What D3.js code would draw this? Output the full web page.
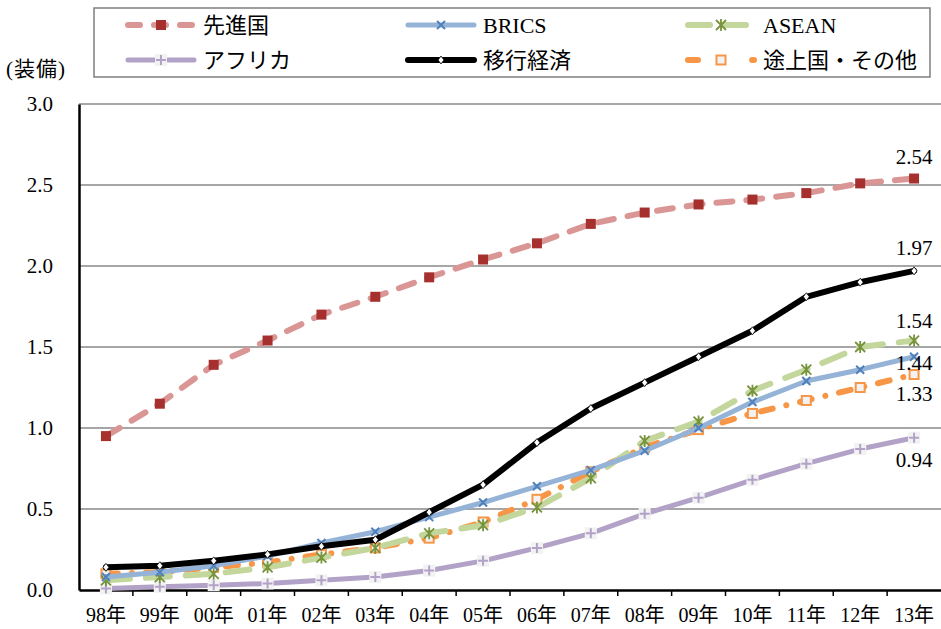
<!DOCTYPE html>
<html>
<head>
<meta charset="utf-8">
<script src="https://cdn.jsdelivr.net/npm/d3@7"></script>
<style>
  body { margin: 0; background: #fff; }
  svg text { font-family: "Liberation Serif", "Noto Sans CJK JP", serif; fill: #000; }
</style>
</head>
<body>
<svg id="chart" width="941" height="629"></svg>
<script>
const years = ["98年","99年","00年","01年","02年","03年","04年","05年","06年","07年","08年","09年","10年","11年","12年","13年"];
const yTicks = [0, 0.5, 1.0, 1.5, 2.0, 2.5, 3.0];

const advanced   = [0.95, 1.15, 1.39, 1.54, 1.70, 1.81, 1.93, 2.04, 2.14, 2.26, 2.33, 2.38, 2.41, 2.45, 2.51, 2.54];
const brics      = [0.08, 0.11, 0.15, 0.21, 0.29, 0.36, 0.45, 0.54, 0.64, 0.74, 0.86, 1.00, 1.16, 1.29, 1.36, 1.44];
const asean      = [0.06, 0.08, 0.10, 0.14, 0.20, 0.26, 0.35, 0.40, 0.51, 0.69, 0.92, 1.04, 1.23, 1.36, 1.50, 1.54];
const africa     = [0.01, 0.02, 0.03, 0.04, 0.06, 0.08, 0.12, 0.18, 0.26, 0.35, 0.47, 0.57, 0.68, 0.78, 0.87, 0.94];
const transition = [0.14, 0.15, 0.18, 0.22, 0.27, 0.31, 0.48, 0.65, 0.91, 1.12, 1.28, 1.44, 1.60, 1.81, 1.90, 1.97];
const others     = [0.10, 0.11, 0.14, 0.17, 0.22, 0.26, 0.32, 0.42, 0.56, 0.73, 0.88, 0.99, 1.09, 1.17, 1.25, 1.33];

const series = [
  { name: "先進国", values: advanced, color: "#DA9694", mark: "#A5302D", marker: "square", dash: "16,14", legDash: "12,14", width: 6, label: "2.54", ldy: -15 },
  { name: "BRICS", values: brics, color: "#95B3D7", mark: "#4F81BD", marker: "x", dash: null, legDash: null, width: 5, label: "1.44", ldy: 13 },
  { name: "ASEAN", values: asean, color: "#C3D69B", mark: "#77933C", marker: "star", dash: "24,16", legDash: "22,14", width: 6, label: "1.54", ldy: -13 },
  { name: "アフリカ", values: africa, color: "#B3A2C7", mark: "#B3A2C7", marker: "plus", dash: null, legDash: null, width: 5, label: "0.94", ldy: 29 },
  { name: "移行経済", values: transition, color: "#000000", mark: "#000", marker: "diamond", dash: null, legDash: null, width: 6, label: "1.97", ldy: -16 },
  { name: "途上国・その他", values: others, color: "#F79646", mark: "#F79646", marker: "open", dash: "12,14,0.1,14", legDash: "10,24,0.1,30", width: 6, label: "1.33", ldy: 26 }
];

const svg = d3.select("#chart");
const plotL = 79, plotR = 941, plotT = 104, plotB = 590;

const x = d3.scaleBand().domain(years).range([plotL, plotR]);
const y = d3.scaleLinear().domain([0, 3]).range([plotB, plotT]);
const cx = d => x(d) + x.bandwidth() / 2;

// gridlines
svg.append("g").selectAll("line").data(yTicks.filter(d => d > 0)).enter().append("line")
  .attr("x1", plotL).attr("x2", plotR)
  .attr("y1", d => y(d)).attr("y2", d => y(d))
  .attr("stroke", "#A6A6A6").attr("stroke-width", 2);

// y axis
const yAxis = svg.append("g").attr("transform", `translate(${plotL},0)`)
  .call(d3.axisLeft(y).tickValues(yTicks).tickFormat(d3.format(".1f")).tickSize(0).tickPadding(26));
yAxis.select(".domain").attr("stroke", "#000").attr("stroke-width", 2.5);
yAxis.selectAll("text").attr("font-size", 21).style("font-family", "Liberation Serif");

// x axis
const xAxis = svg.append("g").attr("transform", `translate(0,${plotB})`)
  .call(d3.axisBottom(x).tickSize(0).tickPadding(18));
xAxis.select(".domain").attr("stroke", "#000").attr("stroke-width", 2.5);
xAxis.selectAll("text").attr("font-size", 20).style("font-family", "Liberation Serif, Noto Sans CJK JP");
svg.append("g").selectAll("line").data(years.slice(1)).enter().append("line")
  .attr("x1", d => x(d)).attr("x2", d => x(d))
  .attr("y1", plotB).attr("y2", plotB + 6)
  .attr("stroke", "#000").attr("stroke-width", 1.5);

svg.append("text").attr("x", 6).attr("y", 76).attr("font-size", 21).attr("letter-spacing", 1).text("(装備)");

const line = d3.line().x((d, i) => cx(years[i])).y(d => y(d));

function drawMarker(g, s, px, py) {
  if (s.marker === "square") {
    g.append("rect").attr("x", px - 5).attr("y", py - 5).attr("width", 10).attr("height", 10).attr("fill", s.mark);
  } else if (s.marker === "x") {
    g.append("path").attr("d", `M${px-4},${py-4}L${px+4},${py+4}M${px-4},${py+4}L${px+4},${py-4}`)
      .attr("stroke", s.mark).attr("stroke-width", 2);
  } else if (s.marker === "star") {
    g.append("path").attr("d", `M${px-5},${py-5}L${px+5},${py+5}M${px-5},${py+5}L${px+5},${py-5}M${px},${py-6}L${px},${py+6}`)
      .attr("stroke", s.mark).attr("stroke-width", 1.8);
  } else if (s.marker === "plus") {
    g.append("rect").attr("x", px - 6).attr("y", py - 6).attr("width", 12).attr("height", 12).attr("fill", "#F2F2F2");
    g.append("path").attr("d", `M${px-5},${py}L${px+5},${py}M${px},${py-5}L${px},${py+5}`)
      .attr("stroke", s.mark).attr("stroke-width", 2);
  } else if (s.marker === "diamond") {
    g.append("path").attr("d", `M${px},${py-4}L${px+3},${py}L${px},${py+4}L${px-3},${py}Z`)
      .attr("fill", "#fff").attr("stroke", "#000").attr("stroke-width", 0.8);
  } else if (s.marker === "open") {
    g.append("rect").attr("x", px - 4.5).attr("y", py - 4.5).attr("width", 9).attr("height", 9)
      .attr("fill", "#F2F2F2").attr("stroke", s.mark).attr("stroke-width", 2);
  }
}

// draw order so black is on top
const order = [3, 5, 2, 1, 0, 4];
order.forEach(k => {
  const s = series[k];
  const g = svg.append("g");
  g.append("path").datum(s.values).attr("d", line)
    .attr("fill", "none").attr("stroke", s.color).attr("stroke-width", s.width)
    .attr("stroke-linecap", "round").attr("stroke-linejoin", "round")
    .attr("stroke-dasharray", s.dash);
  s.values.forEach((v, i) => drawMarker(g, s, cx(years[i]), y(v)));
});

// end labels
series.forEach(s => {
  const v = s.values[s.values.length - 1];
  svg.append("text").attr("x", cx(years[years.length - 1])).attr("y", y(v) + s.ldy)
    .attr("text-anchor", "middle").attr("font-size", 21).text(s.label);
});

// legend
svg.append("rect").attr("x", 94).attr("y", 8).attr("width", 836).attr("height", 69)
  .attr("fill", "#fff").attr("stroke", "#7F7F7F").attr("stroke-width", 1.5);
const legPos = [[128, 25], [408, 25], [688, 25], [128, 60], [408, 60], [688, 60]];
series.forEach((s, i) => {
  const [lx, ly] = legPos[i];
  const g = svg.append("g");
  g.append("line").attr("x1", lx).attr("x2", lx + 66).attr("y1", ly).attr("y2", ly)
    .attr("stroke", s.color).attr("stroke-width", s.width)
    .attr("stroke-linecap", "round").attr("stroke-dasharray", s.legDash);
  drawMarker(g, s, lx + 33, ly);
  g.append("text").attr("x", lx + 75).attr("y", ly + 8).attr("font-size", 22).text(s.name);
});
</script>
</body>
</html>
